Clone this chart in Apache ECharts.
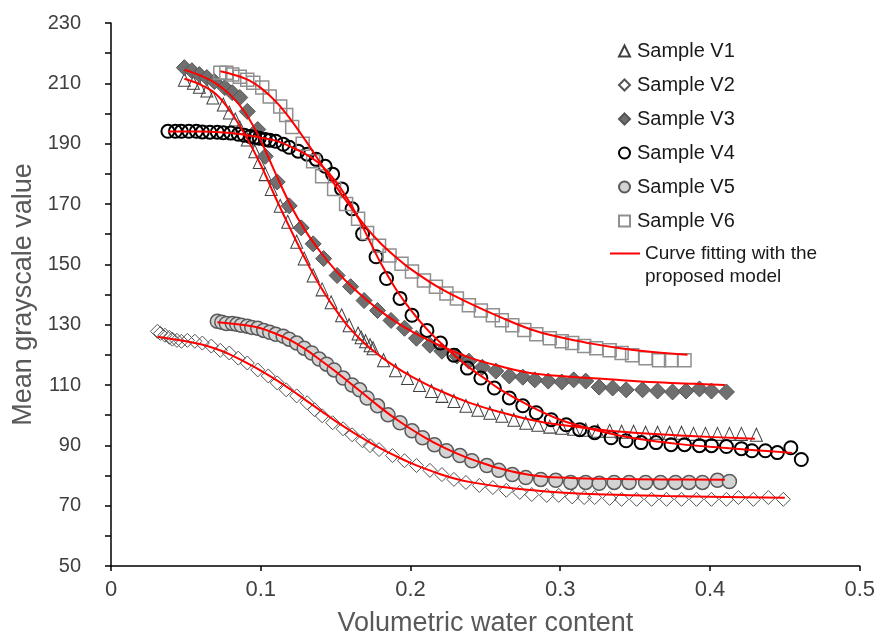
<!DOCTYPE html>
<html>
<head>
<meta charset="utf-8">
<script src="https://cdn.jsdelivr.net/npm/echarts@6/dist/echarts.min.js"></script>
<style>
html,body{margin:0;padding:0;background:#fff;}
#chart{width:878px;height:642px;}
</style>
</head>
<body>
<div id="chart"></div>
<script>
// ---- Data ----
const xTicks = [0, 0.1, 0.2, 0.3, 0.4, 0.5];
const yTicks = [50, 70, 90, 110, 130, 150, 170, 190, 210, 230];
const seriesNames = ['Sample V1', 'Sample V2', 'Sample V3', 'Sample V4', 'Sample V5', 'Sample V6'];
const fitName = 'Curve fitting with the proposed model';

const v1 = [[0.049,211.2],[0.055,210.2],[0.059,208.9],[0.064,207.6],[0.068,205.3],[0.075,203],[0.079,200.3],[0.083,198],[0.086,195.4],[0.091,191.4],[0.096,187.5],[0.099,183.9],[0.103,179.9],[0.107,175],[0.113,169.4],[0.118,164.1],[0.124,157.5],[0.129,151.9],[0.135,146.3],[0.141,141.7],[0.147,137.4],[0.154,133.1],[0.159,129.8],[0.165,127.1],[0.167,125.8],[0.17,124.5],[0.173,123.2],[0.175,122.2],[0.182,118.2],[0.19,114.9],[0.198,112.3],[0.206,110],[0.214,108],[0.221,106.4],[0.229,104.7],[0.237,103.1],[0.245,101.8],[0.253,100.8],[0.261,99.8],[0.269,98.5],[0.277,97.5],[0.285,96.8],[0.293,96.2],[0.301,95.8],[0.309,95.5],[0.317,95.2],[0.325,94.8],[0.333,94.8],[0.341,94.5],[0.349,94.5],[0.357,94.2],[0.365,94.2],[0.373,94.2],[0.381,94.2],[0.389,93.8],[0.397,93.8],[0.405,93.8],[0.413,93.8],[0.421,93.8],[0.431,93.5]];

const v2 = [[0.031,127.8],[0.033,127.1],[0.036,126.5],[0.039,125.8],[0.041,125.2],[0.044,124.8],[0.047,124.5],[0.051,124.8],[0.056,124.5],[0.061,123.9],[0.067,122.9],[0.073,121.5],[0.079,120.6],[0.085,118.9],[0.091,117.3],[0.098,115],[0.105,113],[0.111,110.7],[0.117,108.4],[0.124,106.4],[0.131,104.1],[0.136,101.8],[0.141,99.8],[0.148,97.5],[0.155,95.5],[0.161,93.5],[0.168,91.5],[0.173,89.9],[0.179,88.6],[0.188,86.6],[0.196,84.9],[0.204,83.3],[0.213,81.7],[0.221,80.3],[0.229,78.7],[0.237,77.7],[0.246,76.7],[0.255,76],[0.264,75.1],[0.273,74.4],[0.281,73.7],[0.291,73.4],[0.299,73.4],[0.308,72.9],[0.316,72.7],[0.323,72.7],[0.333,72.4],[0.341,72.1],[0.351,72.1],[0.361,72.1],[0.371,72.1],[0.381,72.1],[0.391,72.1],[0.401,72.1],[0.411,72.1],[0.419,72.7],[0.429,72.1],[0.439,72.7],[0.449,72.1]];

const v3 = [[0.049,215.2],[0.054,214.2],[0.059,212.9],[0.064,211.9],[0.069,210.6],[0.076,208.6],[0.081,206.9],[0.086,205.3],[0.091,200.7],[0.098,194.7],[0.103,185.8],[0.111,177.3],[0.119,169.4],[0.127,162.1],[0.135,156.8],[0.142,151.9],[0.151,146.3],[0.16,142.6],[0.169,138],[0.178,134.7],[0.187,131.4],[0.196,128.8],[0.204,125.5],[0.213,123.2],[0.221,121.2],[0.231,119.6],[0.239,117.9],[0.248,115.9],[0.257,114.6],[0.266,113],[0.275,112.6],[0.283,111.7],[0.292,111.3],[0.301,111],[0.309,111.7],[0.317,111.3],[0.326,109.3],[0.335,109],[0.344,108.4],[0.355,108.4],[0.365,108],[0.375,107.7],[0.384,108],[0.393,108.7],[0.401,108],[0.411,107.7]];

const v4 = [[0.038,194.1],[0.043,194.1],[0.047,194.1],[0.052,194.1],[0.057,194.1],[0.061,193.9],[0.066,193.8],[0.071,193.8],[0.075,193.6],[0.08,193.5],[0.085,193.1],[0.089,192.8],[0.093,192.4],[0.096,192.1],[0.099,191.8],[0.103,191.4],[0.106,191.1],[0.11,190.8],[0.115,189.8],[0.119,188.8],[0.125,187.5],[0.131,186.5],[0.137,184.8],[0.143,182.5],[0.148,179.9],[0.154,175],[0.161,168.4],[0.168,160.1],[0.177,152.5],[0.184,145.3],[0.193,138.7],[0.201,133.1],[0.211,128.1],[0.22,123.9],[0.229,119.9],[0.238,115.6],[0.247,112.3],[0.256,109],[0.266,105.7],[0.275,103.1],[0.284,100.8],[0.294,98.5],[0.304,96.8],[0.313,95.2],[0.323,94.2],[0.334,92.5],[0.344,91.5],[0.354,90.9],[0.364,90.9],[0.374,90.2],[0.383,90.2],[0.393,89.9],[0.401,89.9],[0.411,89.6],[0.421,88.9],[0.428,88.2],[0.437,88.2],[0.445,87.6],[0.454,89.2],[0.461,85.3]];

const v5 = [[0.071,131.1],[0.074,130.8],[0.077,130.4],[0.081,130.4],[0.084,130.1],[0.087,129.8],[0.091,129.5],[0.094,129.1],[0.098,128.8],[0.102,128.1],[0.106,127.5],[0.11,126.8],[0.115,126.2],[0.119,125.2],[0.124,123.9],[0.129,122.2],[0.134,120.6],[0.139,118.6],[0.144,116.9],[0.149,115],[0.155,112.3],[0.161,110],[0.166,108.4],[0.171,105.7],[0.178,103.1],[0.185,100.1],[0.193,97.5],[0.201,94.8],[0.208,92.5],[0.216,90.2],[0.224,88.2],[0.233,86.6],[0.241,84.9],[0.251,83.3],[0.259,81.7],[0.268,80.3],[0.277,79.3],[0.287,78.7],[0.297,78.4],[0.307,77.7],[0.317,77.7],[0.326,77.4],[0.336,77.7],[0.346,77.7],[0.357,77.7],[0.367,77.7],[0.377,77.7],[0.386,77.7],[0.395,77.7],[0.405,78.4],[0.413,78]];

const v6 = [[0.073,213.5],[0.077,213.5],[0.081,212.9],[0.086,212.2],[0.091,211.2],[0.095,210.2],[0.101,208.6],[0.106,205.6],[0.113,202.3],[0.117,199.5],[0.121,195.5],[0.128,190],[0.135,184.2],[0.141,179.2],[0.149,175],[0.157,170],[0.165,165.1],[0.171,160.4],[0.179,156.2],[0.186,152.9],[0.194,150.2],[0.201,147.6],[0.209,144.6],[0.217,142.6],[0.224,140.3],[0.231,138.7],[0.239,136.4],[0.247,134.7],[0.255,133.1],[0.261,131.5],[0.268,129.8],[0.276,128.2],[0.284,126.8],[0.293,125.5],[0.301,124.5],[0.308,123.9],[0.316,122.9],[0.324,122.2],[0.333,121.5],[0.341,120.6],[0.348,119.9],[0.357,118.9],[0.366,118.2],[0.374,118.2],[0.383,118.2]];

const fit1 = [[0.049,211.5],[0.06,209.5],[0.07,206.5],[0.08,200.5],[0.09,192.5],[0.1,183],[0.11,172],[0.12,161.5],[0.13,151.5],[0.14,142.5],[0.15,135],[0.16,128.5],[0.17,123.5],[0.18,119.5],[0.19,116],[0.2,113],[0.22,108],[0.24,104],[0.26,101],[0.28,98.5],[0.3,96.8],[0.33,95],[0.36,93.8],[0.39,93],[0.43,92.2]];
const fit2 = [[0.031,126],[0.05,124.5],[0.06,123.5],[0.07,122],[0.08,120],[0.09,117.5],[0.1,114.8],[0.11,111.8],[0.12,108.5],[0.13,105],[0.14,101.5],[0.15,98],[0.16,94.8],[0.17,91.8],[0.18,89],[0.19,86.5],[0.2,84.2],[0.21,82.2],[0.22,80.4],[0.23,78.9],[0.24,77.8],[0.26,76.3],[0.28,75.2],[0.3,74.4],[0.33,73.7],[0.37,73.2],[0.41,72.9],[0.45,72.6]];
const fit3 = [[0.049,214.5],[0.06,212.5],[0.07,210],[0.08,206],[0.09,200],[0.1,191],[0.11,180],[0.12,169.5],[0.13,161],[0.14,154],[0.15,148],[0.16,143],[0.17,138.5],[0.18,134.5],[0.19,131],[0.2,128],[0.22,123],[0.24,119],[0.26,116.2],[0.28,114],[0.3,113],[0.33,112],[0.36,111],[0.39,110.4],[0.41,110]];
const fit4 = [[0.038,194],[0.06,194],[0.08,193.5],[0.1,192],[0.11,191],[0.12,189],[0.13,186.5],[0.14,183],[0.15,177.5],[0.16,170],[0.17,160.5],[0.18,150.5],[0.19,142],[0.2,135],[0.21,129],[0.22,124],[0.23,119.5],[0.24,115.5],[0.25,112],[0.26,108.5],[0.28,103],[0.3,98.5],[0.32,95.5],[0.34,93.2],[0.36,91.6],[0.38,90.4],[0.4,89.5],[0.43,88.4],[0.455,87.5]];
const fit5 = [[0.071,130.8],[0.09,129.8],[0.1,128.8],[0.11,127],[0.12,124.8],[0.13,121.8],[0.14,118.2],[0.15,114.5],[0.16,110.5],[0.17,106.5],[0.18,102.5],[0.19,98.8],[0.2,95.5],[0.21,92.5],[0.22,89.8],[0.23,87.5],[0.24,85.5],[0.25,83.8],[0.26,82.3],[0.28,80.2],[0.3,79.3],[0.33,78.9],[0.37,78.7],[0.41,78.6]];
const fit6 = [[0.073,214],[0.09,211.5],[0.1,208.5],[0.11,204],[0.12,198],[0.13,191],[0.14,183.5],[0.15,176],[0.16,169],[0.17,162.5],[0.18,157],[0.19,152.5],[0.2,148.5],[0.22,142],[0.24,137],[0.26,132.5],[0.28,128.5],[0.3,125.8],[0.32,123.8],[0.34,122.2],[0.36,121],[0.385,120]];

// ---- Chart ----
const chart = echarts.init(document.getElementById('chart'), null, {renderer: 'canvas'});
const FONT = 'Liberation Sans, Arial, sans-serif';

function scatter(name, data, symbol, size, fill, border, bw) {
  return {
    name: name, type: 'scatter', data: data, symbol: symbol, symbolSize: size,
    itemStyle: {color: fill, borderColor: border, borderWidth: bw, opacity: 1},
    z: 2, animation: false, emphasis: {disabled: true}
  };
}
function fitLine(data) {
  return {
    name: fitName, type: 'line', data: data, smooth: 0.4, symbol: 'none', showSymbol: false,
    lineStyle: {color: '#ff0000', width: 2}, itemStyle: {color: '#ff0000'},
    z: 5, animation: false, emphasis: {disabled: true}
  };
}

const option = {
  backgroundColor: '#ffffff',
  animation: false,
  grid: {left: 111, right: 17, top: 23, bottom: 73, containLabel: false},
  xAxis: {
    type: 'value', min: xTicks[0], max: xTicks[xTicks.length - 1], interval: 0.1,
    name: 'Volumetric water content', nameLocation: 'middle', nameGap: 44,
    nameTextStyle: {fontFamily: FONT, fontSize: 27, color: '#595959'},
    axisLine: {show: true, onZero: false, lineStyle: {color: '#000', width: 1.5}},
    axisTick: {show: true, length: 5, lineStyle: {color: '#000', width: 1.5}},
    axisLabel: {fontFamily: FONT, fontSize: 22, color: '#404040', margin: 13,
      formatter: v => String(Math.round(v * 10) / 10)},
    splitLine: {show: false}
  },
  yAxis: {
    type: 'value', min: yTicks[0], max: yTicks[yTicks.length - 1], interval: 20,
    name: 'Mean grayscale value', nameLocation: 'middle', nameGap: 70,
    nameTextStyle: {fontFamily: FONT, fontSize: 27, color: '#595959'},
    axisLine: {show: true, onZero: false, lineStyle: {color: '#000', width: 1.5}},
    axisTick: {show: true, length: 6, lineStyle: {color: '#000', width: 1.5}},
    minorTick: {show: true, splitNumber: 2, length: 6, lineStyle: {color: '#000', width: 1.5}},
    axisLabel: {fontFamily: FONT, fontSize: 20, color: '#404040', margin: 30},
    splitLine: {show: false}, minorSplitLine: {show: false}
  },
  legend: [
    {
      data: seriesNames, orient: 'vertical', left: 613, top: 36, itemGap: 14,
      itemWidth: 11, itemHeight: 11, selectedMode: false,
      textStyle: {fontFamily: FONT, fontSize: 20, color: '#1a1a1a', padding: [0, 0, 0, 2]}
    },
    {
      data: [{name: fitName, icon: 'rect'}], orient: 'vertical', left: 605, top: 214,
      itemWidth: 30, itemHeight: 2, itemGap: 0, selectedMode: false,
      itemStyle: {color: '#ff0000', borderWidth: 0},
      formatter: () => ' \nCurve fitting with the\nproposed model',
      textStyle: {fontFamily: FONT, fontSize: 19, color: '#1a1a1a', lineHeight: 23}
    }
  ],
  series: [
    scatter(seriesNames[0], v1, 'triangle', [12, 13], 'rgba(255,255,255,0)', '#404040', 1),
    scatter(seriesNames[1], v2, 'diamond', 14, 'rgba(255,255,255,0)', '#555555', 1),
    scatter(seriesNames[2], v3, 'diamond', 16, '#6f6f6f', '#555555', 1),
    scatter(seriesNames[3], v4, 'circle', 13, 'rgba(255,255,255,0)', '#000000', 2),
    scatter(seriesNames[4], v5, 'circle', 14, '#d3d3d3', '#5a5a5a', 1.5),
    scatter(seriesNames[5], v6, 'rect', 13, 'rgba(255,255,255,0)', '#8f8f8f', 1.5),
    fitLine(fit1), fitLine(fit2), fitLine(fit3), fitLine(fit4), fitLine(fit5), fitLine(fit6)
  ]
};
chart.setOption(option);
</script>
</body>
</html>
